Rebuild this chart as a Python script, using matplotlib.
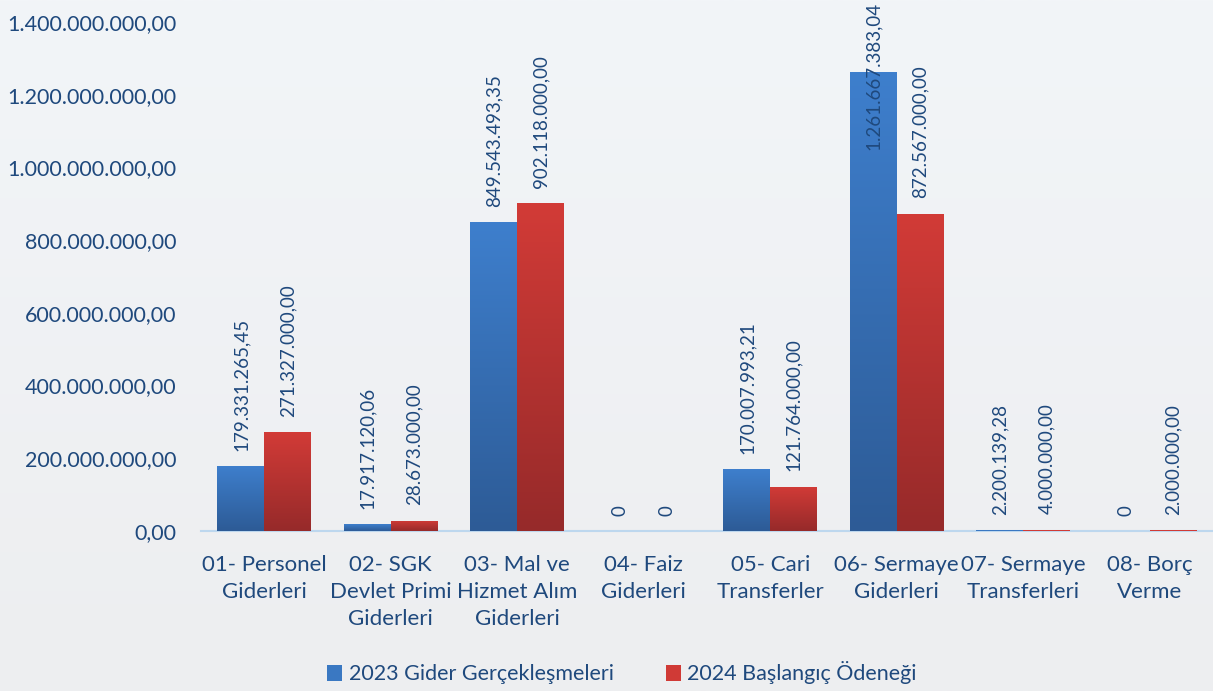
import matplotlib
matplotlib.use("Agg")
import matplotlib.pyplot as plt
import numpy as np
from matplotlib.colors import LinearSegmentedColormap
from matplotlib.patches import Patch
from matplotlib.transforms import blended_transform_factory, offset_copy

plt.rcParams['font.family'] = ['Lato', 'DejaVu Sans']

categories = ["01- Personel\nGiderleri", "02- SGK\nDevlet Primi\nGiderleri",
              "03- Mal ve\nHizmet Alım\nGiderleri", "04- Faiz\nGiderleri",
              "05- Cari\nTransferler", "06- Sermaye\nGiderleri",
              "07- Sermaye\nTransferleri", "08- Borç\nVerme"]
gider_2023 = [179331265.45, 17917120.06, 849543493.35, 0, 170007993.21,
              1261667383.04, 2200139.28, 0]
odenek_2024 = [271327000.00, 28673000.00, 902118000.00, 0, 121764000.00,
               872567000.00, 4000000.00, 2000000.00]
series_names = ["2023 Gider Gerçekleşmeleri", "2024 Başlangıç Ödeneği"]
yticks = [0, 200e6, 400e6, 600e6, 800e6, 1000e6, 1200e6, 1400e6]

TXT = '#1F497D'
BG = '#EFF1F4'


def tr_fmt(v):
    if v == 0:
        return "0"
    s = f"{v:,.2f}"
    return s.replace(",", "X").replace(".", ",").replace("X", ".")


fig = plt.figure(figsize=(12.13, 6.91), dpi=100)
# background gradient
bg_ax = fig.add_axes([0, 0, 1, 1], zorder=-10)
grad = np.linspace(0, 1, 256).reshape(-1, 1)
bg_cmap = LinearSegmentedColormap.from_list('bg', ['#EDEEF0', '#F2F5F8'])
bg_ax.imshow(grad, aspect='auto', cmap=bg_cmap, extent=[0, 1, 0, 1], origin='lower')
bg_ax.axis('off')

ax = fig.add_axes([201/1213, 1 - 531/691, 1012/1213, (531 - 22)/691])
ax.patch.set_alpha(0)

x = np.arange(len(categories))
w = 0.37
b1 = ax.bar(x - w/2, gider_2023, width=w, color='#3A78C2', zorder=3)
b2 = ax.bar(x + w/2, odenek_2024, width=w, color='#D03A36', zorder=3)

cm_blue = LinearSegmentedColormap.from_list('b', ['#2D5B96', '#3E7FCD'])
cm_red = LinearSegmentedColormap.from_list('r', ['#962A2A', '#D23B37'])
for bars, cmap in ((b1, cm_blue), (b2, cm_red)):
    for p in bars:
        h = p.get_height()
        if h < 10e6:
            continue
        x0 = p.get_x()
        im = ax.imshow(grad, aspect='auto', cmap=cmap, origin='lower',
                       extent=[x0, x0 + p.get_width(), 0, h], zorder=3.5)
        im.set_clip_path(p)
ax.set_xlim(-0.5, len(categories) - 0.5)
ax.set_ylim(0, 1400e6)

# value labels
top_tr = blended_transform_factory(ax.transData, fig.transFigure)
for bars, vals in ((b1, gider_2023), (b2, odenek_2024)):
    for p, v in zip(bars, vals):
        cx = p.get_x() + p.get_width()/2
        txt = tr_fmt(v)
        if v > 1100e6:
            ax.text(cx, 0.998, txt, transform=top_tr, rotation=90, ha='center',
                    va='top', fontsize=13.5, color=TXT, zorder=5)
        else:
            tr = offset_copy(ax.transData, fig=fig, x=0, y=11, units='points')
            ax.text(cx, v, txt, transform=tr, rotation=90, ha='center',
                    va='bottom', fontsize=13.5, color=TXT, zorder=5)

ax.set_yticks(yticks)
ax.set_yticklabels([tr_fmt(t) if t else "0,00" for t in yticks])
ax.set_xticks(x)
ax.set_xticklabels(categories, linespacing=1.45)
ax.tick_params(axis='y', length=0, pad=17.5, labelsize=15.5, labelcolor=TXT)
ax.tick_params(axis='x', length=0, pad=17, labelsize=16, labelcolor=TXT)
for s in ('top', 'right', 'left'):
    ax.spines[s].set_visible(False)
ax.spines['bottom'].set_color('#BDD7EE')
ax.spines['bottom'].set_linewidth(1.5)
ax.spines['bottom'].set_zorder(1)

handles = [Patch(facecolor='#3A78C2'), Patch(facecolor='#D03A36')]
fig.legend(handles, series_names, loc='center', bbox_to_anchor=(622/1213, 1 - 673/691),
           ncol=2, frameon=False, fontsize=15.5, labelcolor=TXT,
           handlelength=0.7, handleheight=0.7, handletextpad=0.3, columnspacing=2.4)

fig.savefig('out.png', dpi=100, facecolor=BG)
